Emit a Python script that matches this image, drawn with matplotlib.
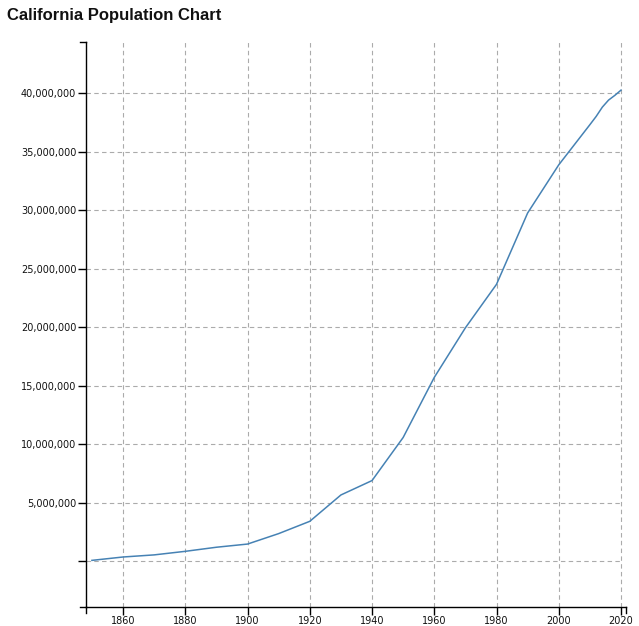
import matplotlib
matplotlib.use("Agg")
import matplotlib.pyplot as plt
from matplotlib.ticker import FuncFormatter

years = [1850, 1860, 1870, 1880, 1890, 1900, 1910, 1920, 1930, 1940, 1950,
         1960, 1970, 1980, 1990, 2000, 2010, 2012, 2014, 2016, 2018, 2020]
population = [92597, 379994, 560247, 864694, 1213398, 1485053, 2377549,
              3426861, 5677251, 6907387, 10586223, 15717204, 19953134,
              23667902, 29760021, 33871648, 37300000, 38000000, 38800000,
              39400000, 39800000, 40250000]
x_ticks = [1860, 1880, 1900, 1920, 1940, 1960, 1980, 2000, 2020]
y_ticks = [0, 5000000, 10000000, 15000000, 20000000, 25000000,
           30000000, 35000000, 40000000]
title = "California Population Chart"

W, H = 639, 626
fig = plt.figure(figsize=(W / 100, H / 100), dpi=100)
L, R, T, B = 86, 626, 42, 607
ax = fig.add_axes([L / W, 1 - B / H, (R - L) / W, (B - T) / H])

ax.set_xlim(1848.1, 2021.6)
ax.set_ylim(-3890000, 44360000)

grid_kw = dict(color="#ababab", linewidth=0.8, linestyle=(0, (4, 3)), zorder=1)
for yt in y_ticks:
    ax.axhline(yt, xmin=0, xmax=(622 - L) / (R - L), **grid_kw)
for xt in x_ticks:
    ax.axvline(xt, **grid_kw)

ax.plot(years, population, color="#4682b4", linewidth=1.1, zorder=3)

for s in ["top", "right"]:
    ax.spines[s].set_visible(False)
for s in ["left", "bottom"]:
    ax.spines[s].set_color("black")
    ax.spines[s].set_linewidth(1.0)

ax.set_xticks(x_ticks)
ax.set_yticks(y_ticks)
ax.yaxis.set_major_formatter(FuncFormatter(lambda v, p: "" if v == 0 else f"{int(v):,}"))
ax.tick_params(axis="both", length=6, width=1.0, color="black",
               labelsize=7, labelcolor="#111111")
ax.tick_params(axis="x", pad=0.5)
ax.tick_params(axis="y", pad=1)

# outer (domain) ticks like d3 axis
ax.plot([0, 0], [0, -6 / (B - T)], transform=ax.transAxes, color="black", lw=1.0, clip_on=False)
ax.plot([1, 1], [0, -6 / (B - T)], transform=ax.transAxes, color="black", lw=1.0, clip_on=False)
ax.plot([0, -6 / (R - L)], [1, 1], transform=ax.transAxes, color="black", lw=1.0, clip_on=False)
ax.plot([0, -6 / (R - L)], [0, 0], transform=ax.transAxes, color="black", lw=1.0, clip_on=False)

fig.text(7 / W, 1 - 20 / H, title, fontsize=12, fontweight="bold",
         family=["Liberation Sans", "DejaVu Sans"], color="#111111", ha="left", va="baseline")

fig.savefig("out.png", dpi=100)
